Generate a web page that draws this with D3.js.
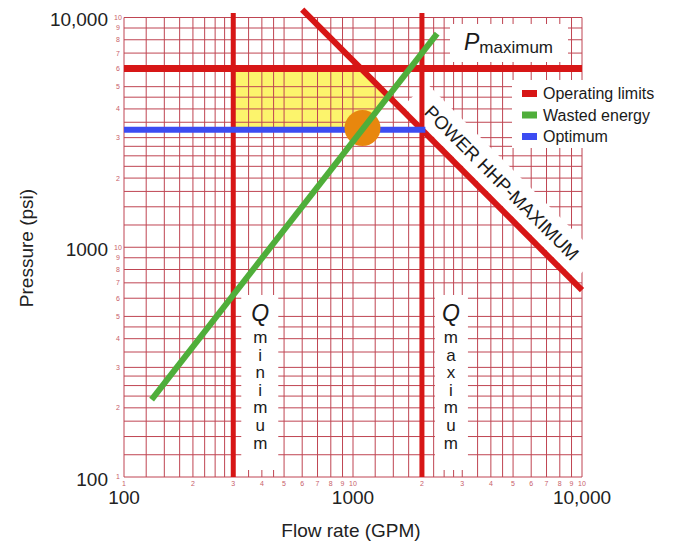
<!DOCTYPE html>
<html>
<head>
<meta charset="utf-8">
<script src="https://cdn.jsdelivr.net/npm/d3@7"></script>
<style>
  body { margin: 0; background: #fff; }
  text { font-family: "Liberation Sans", Arial, sans-serif; }
</style>
</head>
<body>
<svg id="chart" width="682" height="544"></svg>
<script>
// axis ticks
const flowMajor = [100, 1000, 10000];
const flowMajorLabels = ["100", "1000", "10,000"];
const pressureMajor = [100, 1000, 10000];
const pressureMajorLabels = ["100", "1000", "10,000"];
// log-paper rulings inside each decade
const gridSteps = [1, 1.25, 1.5, 1.75, 2, 2.25, 2.5, 2.75, 3, 3.5, 4, 4.5, 5, 6, 7, 8, 9];
const smallLabelSteps = [2, 3, 4, 5, 6, 7, 8, 9, 10];
const decades = [100, 1000];

// operating limits
const qMin = 300;        // GPM
const qMax = 2000;       // GPM
const pMax = 6000;       // psi
const pOptimum = 3250;   // psi
const hhpConst = 6.5e6;  // P * Q along the power limit
const hhpFlow = [600, 10000];
const optimumFlow = [100, 2070];

// wasted energy line
const wastedQ = [132, 2330];
const wastedP = [217, 8510];

// optimum point
const optimumPoint = { q: 1100, p: 3300 };

const legendItems = ["Operating limits", "Wasted energy", "Optimum"];
const legendColors = ["#d71616", "#4fae3a", "#3c4cf2"];

const svg = d3.select('#chart');
const x = d3.scaleLog().domain([100, 10000]).range([124, 582]);
const y = d3.scaleLog().domain([100, 10000]).range([477, 17.5]);
const line = d3.line().x(d => x(d[0])).y(d => y(d[1]));

// yellow operating zone: Qmin, Pmax, power limit, wasted energy line, optimum
const lg = Math.log10;
const slope = (lg(wastedP[1]) - lg(wastedP[0])) / (lg(wastedQ[1]) - lg(wastedQ[0]));
const greenAtP = p => 10 ** (lg(wastedQ[0]) + (lg(p) - lg(wastedP[0])) / slope);
const crossQ = 10 ** ((lg(hhpConst) - lg(wastedP[0]) + slope * lg(wastedQ[0])) / (1 + slope));
const zone = [[qMin, pMax], [hhpConst / pMax, pMax], [crossQ, hhpConst / crossQ],
              [greenAtP(pOptimum), pOptimum], [qMin, pOptimum]];

svg.append('path')
  .attr('d', line(zone) + 'Z')
  .attr('fill', '#fcf46c');

// grid
const gridValues = decades.flatMap(d => gridSteps.map(s => s * d)).concat([10000]);
const grid = svg.append('g').attr('stroke', '#bf4552').attr('stroke-width', 1);
grid.selectAll('.gx').data(gridValues).join('line')
  .attr('x1', d => x(d)).attr('x2', d => x(d))
  .attr('y1', y(100)).attr('y2', y(10000));
grid.selectAll('.gy').data(gridValues).join('line')
  .attr('y1', d => y(d)).attr('y2', d => y(d))
  .attr('x1', x(100)).attr('x2', x(10000));

// small red numbers on the log paper
const smallLabels = [{ v: 100, t: "1" }].concat(
  decades.flatMap(d => smallLabelSteps.map(s => ({ v: s * d, t: String(s) }))));
svg.append('g').selectAll('text').data(smallLabels).join('text')
  .attr('x', 118).attr('y', d => y(d.v)).attr('dy', '0.35em')
  .attr('text-anchor', 'middle').attr('font-size', 7).attr('fill', '#c8606a')
  .text(d => d.t);
svg.append('g').selectAll('text').data(smallLabels).join('text')
  .attr('x', d => x(d.v)).attr('y', 486)
  .attr('text-anchor', 'middle').attr('font-size', 7).attr('fill', '#c8606a')
  .text(d => d.t);

// white label boxes
const boxes = svg.append('g').attr('fill', '#fff');
boxes.append('rect').attr('x', 450).attr('y', 24).attr('width', 118).attr('height', 38);
boxes.append('rect').attr('x', 512).attr('y', 80).attr('width', 170).attr('height', 68);
boxes.append('rect').attr('x', x(qMin) + 8).attr('y', 295).attr('width', 37).attr('height', 175);
boxes.append('rect').attr('x', x(qMax) + 13).attr('y', 295).attr('width', 33).attr('height', 175);

// power label placement along the HHP line
const anchorQ = 3900;
const ax = x(anchorQ), ay = y(hhpConst / anchorQ);
const angle = Math.atan2(y(hhpConst / 10000) - y(hhpConst / 1000), x(10000) - x(1000)) * 180 / Math.PI;
const powerG = svg.append('g').attr('transform', `translate(${ax},${ay}) rotate(${angle})`);
powerG.append('rect').attr('x', -124).attr('y', -36).attr('width', 244).attr('height', 33).attr('fill', '#fff');

// operating limits
const red = legendColors[0];
svg.append('line').attr('x1', x(100)).attr('x2', x(10000)).attr('y1', y(pMax)).attr('y2', y(pMax))
  .attr('stroke', red).attr('stroke-width', 7);
[qMin, qMax].forEach(q => {
  svg.append('line').attr('x1', x(q)).attr('x2', x(q)).attr('y1', 13).attr('y2', y(100))
    .attr('stroke', red).attr('stroke-width', 5);
});
svg.append('path')
  .attr('d', line(hhpFlow.map(q => [q, hhpConst / q])))
  .attr('stroke', red).attr('stroke-width', 6).attr('fill', 'none');

// optimum
svg.append('path')
  .attr('d', line(optimumFlow.map(q => [q, pOptimum])))
  .attr('stroke', legendColors[2]).attr('stroke-width', 6).attr('fill', 'none');

svg.append('circle')
  .attr('cx', x(optimumPoint.q)).attr('cy', y(optimumPoint.p)).attr('r', 18)
  .attr('fill', '#e8870e');

// wasted energy
svg.append('path')
  .attr('d', line(wastedQ.map((q, i) => [q, wastedP[i]])))
  .attr('stroke', legendColors[1]).attr('stroke-width', 6).attr('fill', 'none');

powerG.append('text')
  .attr('x', 0).attr('y', -19).attr('dy', '0.35em')
  .attr('text-anchor', 'middle').attr('font-size', 18.5).attr('fill', '#1a1a1a')
  .text('POWER HHP-MAXIMUM');

// P maximum label
const pLabel = svg.append('text').attr('x', 464).attr('y', 50).attr('fill', '#1a1a1a');
pLabel.append('tspan').attr('font-size', 23).attr('font-style', 'italic').text('P');
pLabel.append('tspan').attr('font-size', 17).attr('dy', 3).text('maximum');

// Q labels
function qLabel(cx, word) {
  const g = svg.append('g').attr('fill', '#1a1a1a').attr('text-anchor', 'middle');
  g.append('text').attr('x', cx).attr('y', 321).attr('font-size', 23).attr('font-style', 'italic').text('Q');
  g.selectAll('.ch').data(word.split('')).join('text')
    .attr('x', cx).attr('y', (d, i) => 343 + i * 17.6)
    .attr('font-size', 17).text(d => d);
}
qLabel(x(qMin) + 27, 'minimum');
qLabel(x(qMax) + 29, 'maximum');

// legend
const legend = svg.append('g');
legendItems.forEach((t, i) => {
  legend.append('rect').attr('x', 522).attr('y', 90 + i * 21.5).attr('width', 15).attr('height', 7)
    .attr('fill', legendColors[i]);
  legend.append('text').attr('x', 543).attr('y', 93.5 + i * 21.5).attr('dy', '0.35em')
    .attr('font-size', 16).attr('fill', '#1a1a1a').text(t);
});

// major tick labels
svg.append('g').selectAll('text').data(pressureMajor).join('text')
  .attr('x', 108).attr('y', d => y(d) + 2).attr('dy', '0.35em')
  .attr('text-anchor', 'end').attr('font-size', 19).attr('fill', '#222')
  .text((d, i) => pressureMajorLabels[i]);
svg.append('g').selectAll('text').data(flowMajor).join('text')
  .attr('x', d => x(d)).attr('y', 497).attr('dy', '0.35em')
  .attr('text-anchor', 'middle').attr('font-size', 19).attr('fill', '#222')
  .text((d, i) => flowMajorLabels[i]);

// axis titles
svg.append('text').attr('x', 351).attr('y', 537).attr('text-anchor', 'middle')
  .attr('font-size', 19).attr('fill', '#222').text('Flow rate (GPM)');
svg.append('text').attr('transform', 'translate(33,248) rotate(-90)').attr('text-anchor', 'middle')
  .attr('font-size', 19).attr('fill', '#222').text('Pressure (psi)');
</script>
</body>
</html>
